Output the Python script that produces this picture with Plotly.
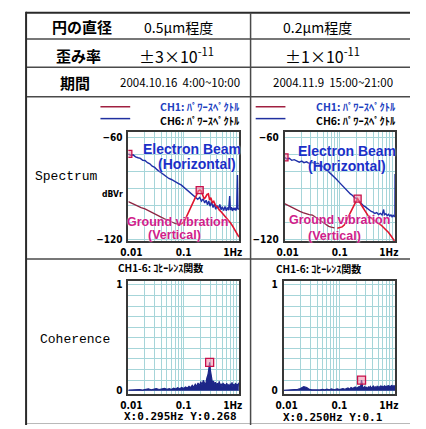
import plotly.graph_objects as go

W, H = 426, 429

# ---- table text -------------------------------------------------------------
ROW_LABELS = ["円の直径", "歪み率", "期間"]
COL1_TEXT = ["0.5μm程度", "±3×10<sup>-11</sup>", "2004.10.16\u00a0\u00a04:00~10:00"]
COL2_TEXT = ["0.2μm程度", "±1×10<sup>-11</sup>", "2004.11.9\u00a0\u00a015:00~21:00"]
SECTION_LABELS = ["Spectrum", "Coherence"]
LEGEND_CH1 = "CH1: ﾊﾟﾜｰｽﾍﾟｸﾄﾙ"
LEGEND_CH6 = "CH6: ﾊﾟﾜｰｽﾍﾟｸﾄﾙ"
COH_TITLE = "CH1-6: ｺﾋｰﾚﾝｽ関数"
BEAM_LABEL = ["Electron Beam", "(Horizontal)"]
GROUND_LABEL = ["Ground vibration", "(Vertical)"]
UNIT_LABEL = "dBVr"

# ---- axis ticks -------------------------------------------------------------
FREQ_TICKS = [0.01, 0.1, 1.0]
FREQ_TICK_TEXT = ["\u00a0\u00a00.01", "0.1", "1Hz\u00a0\u00a0\u00a0\u00a0"]
LOG_GRID = [0.02, 0.03, 0.04, 0.05, 0.06, 0.07, 0.08, 0.09,
            0.2, 0.3, 0.4, 0.5, 0.6, 0.7, 0.8, 0.9]
DB_TICKS = [-60, -120]
DB_GRID = [-70, -80, -90, -100, -110]
COH_TICKS = [0, 1]
COH_GRID = [0.1, 0.2, 0.3, 0.4, 0.5, 0.6, 0.7, 0.8, 0.9]

# ---- power spectra, 2004.10.16 ---------------------------------------------
CH6_L_FREQ = [0.0100, 0.0110, 0.0122, 0.0135, 0.0150, 0.0165, 0.0182, 0.0200, 0.0222, 0.0245,
              0.0270, 0.0300, 0.0330, 0.0365, 0.0400, 0.0445, 0.0490, 0.0540, 0.0600, 0.0660,
              0.0730, 0.0810, 0.0900, 0.1000, 0.1100, 0.1220, 0.1350, 0.1500, 0.1650, 0.1800,
              0.1950, 0.2100, 0.2250, 0.2400, 0.2550, 0.2700, 0.2850, 0.3000, 0.3200, 0.3400,
              0.3600, 0.3800, 0.4000, 0.4250, 0.4500, 0.4750, 0.5000, 0.5300, 0.5600, 0.5900,
              0.6200, 0.6500, 0.6800, 0.7000, 0.7300, 0.7600, 0.7900, 0.8200, 0.8500, 0.8800,
              0.9100, 0.9400, 0.9600, 0.9800, 1.0000]
CH6_L_DB = [-69.6, -70.5, -70.2, -71.4, -71.9, -72.3, -73.4, -73.5, -74.8, -75.5,
            -76.9, -77.6, -78.9, -80.0, -80.8, -82.3, -82.9, -84.1, -84.7, -85.6,
            -86.4, -87.1, -87.9, -89.2, -90.4, -91.6, -92.7, -94.2, -95.6, -96.3,
            -95.2, -97.4, -96.1, -98.5, -96.9, -99.6, -97.3, -100.4, -98.0, -101.2,
            -99.1, -102.3, -100.0, -101.9, -99.4, -102.5, -100.8, -102.9, -100.6, -103.1,
            -101.2, -102.8, -94.5, -102.6, -101.0, -103.2, -101.5, -102.7, -101.3, -103.0,
            -101.6, -82.0, -102.4, -101.8, -102.5]

CH1_L_FREQ = [0.0100, 0.0115, 0.0130, 0.0150, 0.0170, 0.0200, 0.0230, 0.0260, 0.0300, 0.0350,
              0.0400, 0.0450, 0.0500, 0.0560, 0.0630, 0.0700, 0.0780, 0.0860, 0.0950, 0.1050,
              0.1150, 0.1250, 0.1350, 0.1450, 0.1550, 0.1650, 0.1750, 0.1850, 0.1950, 0.2050,
              0.2150, 0.2250, 0.2350, 0.2500, 0.2650, 0.2800, 0.2950, 0.3100, 0.3300, 0.3500,
              0.3800, 0.4100, 0.4400, 0.4800, 0.5200, 0.5600, 0.6000, 0.6500, 0.7000, 0.7500,
              0.8000, 0.8600, 0.9200, 1.0000]
CH1_L_DB = [-97.7, -98.6, -99.8, -100.4, -101.3, -102.0, -103.1, -104.0, -105.2, -106.1,
            -107.0, -107.9, -108.4, -109.3, -110.0, -110.6, -110.9, -111.2, -110.4, -108.7,
            -105.9, -103.2, -100.6, -98.1, -96.0, -94.1, -92.6, -91.4, -90.9, -91.2,
            -92.8, -95.5, -96.2, -95.0, -93.5, -93.2, -96.8, -95.4, -98.3, -97.6,
            -100.2, -100.9, -102.6, -103.8, -105.1, -106.0, -107.4, -108.5, -110.2, -111.6,
            -113.0, -114.7, -116.5, -118.6]

# ---- power spectra, 2004.11.9 ----------------------------------------------
CH6_R_FREQ = [0.0100, 0.0110, 0.0122, 0.0135, 0.0150, 0.0168, 0.0185, 0.0205, 0.0225, 0.0250,
              0.0280, 0.0320, 0.0360, 0.0400, 0.0450, 0.0500, 0.0560, 0.0630, 0.0700, 0.0780,
              0.0870, 0.0960, 0.1050, 0.1150, 0.1270, 0.1400, 0.1550, 0.1700, 0.1850, 0.2000,
              0.2150, 0.2300, 0.2500, 0.2700, 0.2900, 0.3150, 0.3400, 0.3700, 0.4000, 0.4300,
              0.4650, 0.5000, 0.5400, 0.5800, 0.6200, 0.6400, 0.6800, 0.7200, 0.7600, 0.8000,
              0.8400, 0.8800, 0.9200, 0.9600, 0.9900, 0.9970, 1.0000]
CH6_R_DB = [-71.7, -72.6, -72.2, -73.4, -73.0, -73.7, -74.5, -73.9, -74.8, -74.3,
            -75.2, -74.6, -75.5, -75.1, -76.0, -77.3, -78.6, -80.1, -81.4, -83.0,
            -84.6, -86.1, -87.5, -88.9, -90.4, -91.9, -93.2, -94.1, -95.4, -95.8,
            -96.9, -98.2, -99.0, -100.3, -100.8, -101.9, -102.4, -103.5, -103.9, -104.7,
            -104.2, -105.3, -104.6, -105.6, -102.4, -105.4, -104.8, -106.0, -105.2, -106.3,
            -105.5, -106.6, -105.8, -106.5, -106.2, -81.4, -106.0]

CH1_R_FREQ = [0.0100, 0.0115, 0.0130, 0.0150, 0.0168, 0.0190, 0.0215, 0.0245, 0.0280, 0.0320,
              0.0360, 0.0400, 0.0450, 0.0500, 0.0560, 0.0630, 0.0700, 0.0800, 0.0900, 0.1000,
              0.1100, 0.1200, 0.1320, 0.1450, 0.1600, 0.1750, 0.1900, 0.2050, 0.2100, 0.2200,
              0.2350, 0.2550, 0.2800, 0.3050, 0.3330, 0.3650, 0.4000, 0.4400, 0.4900, 0.5570,
              0.6200, 0.6900, 0.7600, 0.8400, 0.9350, 0.9700]
CH1_R_DB = [-98.9, -100.0, -100.9, -102.0, -102.8, -103.5, -104.2, -104.9, -105.4, -105.7,
            -106.6, -107.8, -109.0, -110.2, -111.4, -112.3, -112.8, -113.2, -113.4, -113.0,
            -112.6, -111.5, -109.0, -106.2, -103.4, -100.8, -98.5, -96.3, -96.0, -97.1,
            -99.0, -100.6, -102.7, -104.3, -106.6, -107.3, -108.4, -109.2, -110.4, -111.5,
            -112.9, -114.4, -115.9, -117.8, -120.2, -120.8]

# frequency where the ground-vibration trace starts climbing
RISE_START_HZ = 0.086

# ---- coherence CH1-6 --------------------------------------------------------
COH_FREQ = [0.010, 0.012, 0.014, 0.016, 0.018, 0.020, 0.023, 0.026, 0.029, 0.032,
            0.036, 0.040, 0.045, 0.050, 0.055, 0.060, 0.066, 0.072, 0.078, 0.085,
            0.092, 0.100, 0.108, 0.116, 0.125, 0.134, 0.143, 0.152, 0.162, 0.172,
            0.182, 0.193, 0.204, 0.215, 0.227, 0.239, 0.250, 0.263, 0.275, 0.285,
            0.295, 0.305, 0.318, 0.332, 0.346, 0.360, 0.375, 0.390, 0.406, 0.422,
            0.440, 0.458, 0.476, 0.495, 0.515, 0.535, 0.556, 0.578, 0.600, 0.623,
            0.647, 0.671, 0.696, 0.722, 0.749, 0.777, 0.805, 0.834, 0.864, 0.895,
            0.927, 0.960, 0.995]
COH_L = [0.005, 0.008, 0.004, 0.010, 0.006, 0.012, 0.018, 0.009, 0.014, 0.020,
         0.011, 0.016, 0.022, 0.013, 0.019, 0.010, 0.024, 0.015, 0.028, 0.018,
         0.030, 0.021, 0.035, 0.024, 0.042, 0.028, 0.050, 0.033, 0.061, 0.040,
         0.072, 0.048, 0.085, 0.055, 0.098, 0.070, 0.060, 0.120, 0.150, 0.205,
         0.268, 0.190, 0.110, 0.075, 0.092, 0.058, 0.081, 0.047, 0.070, 0.052,
         0.088, 0.045, 0.066, 0.038, 0.074, 0.050, 0.062, 0.035, 0.071, 0.048,
         0.058, 0.030, 0.066, 0.044, 0.079, 0.040, 0.060, 0.037, 0.072, 0.046,
         0.063, 0.041, 0.075]
COH_R = [0.004, 0.006, 0.005, 0.008, 0.012, 0.020, 0.038, 0.030, 0.012, 0.008,
         0.006, 0.010, 0.007, 0.012, 0.008, 0.014, 0.009, 0.016, 0.010, 0.013,
         0.018, 0.011, 0.015, 0.020, 0.012, 0.018, 0.025, 0.014, 0.030, 0.020,
         0.026, 0.035, 0.022, 0.030, 0.040, 0.028, 0.100, 0.034, 0.024, 0.038,
         0.027, 0.032, 0.022, 0.036, 0.028, 0.040, 0.025, 0.033, 0.044, 0.030,
         0.036, 0.026, 0.042, 0.031, 0.038, 0.029, 0.045, 0.033, 0.040, 0.030,
         0.048, 0.035, 0.041, 0.032, 0.050, 0.037, 0.044, 0.034, 0.052, 0.040,
         0.046, 0.036, 0.050]
CURSOR_L = (0.295, 0.268)
CURSOR_R = (0.250, 0.1)

# ---- styling ---------------------------------------------------------------
BEAM_BLUE = "#1f2fa8"
GROUND_DARK = "#8e2442"
GROUND_RED = "#e0142e"
COH_NAVY = "#1c2688"
GRID = "#a6d5d9"
FRAME = "#383838"
TABLE_LINE = "#4a4a4a"
CURSOR_EDGE = "#c8104a"
CURSOR_FILL = "rgba(240,140,170,0.55)"

JP = "Noto Sans CJK JP"
TICK_FONT = dict(family="DejaVu Sans Condensed", size=10, color="black", weight="bold")

fig = go.Figure()


def dom_x(a, b):
    return [a / W, b / W]


def dom_y(top, bottom):
    return [1 - bottom / H, 1 - top / H]


# (axis number, left, right, top, bottom, y-range, labelled y ticks, y grid)
PANELS = [
    (2, 123, 242, 133, 243, [-121, -57], DB_TICKS, DB_GRID),
    (3, 291, 410, 133, 243, [-121, -57], DB_TICKS, DB_GRID),
    (4, 123, 242, 283, 398, [-0.035, 1.04], COH_TICKS, COH_GRID),
    (5, 290, 410, 283, 398, [-0.035, 1.04], COH_TICKS, COH_GRID),
]

layout_axes = {}
for n, x0, x1, y0, y1, yr, yticks, ygrid in PANELS:
    layout_axes[f"xaxis{n}"] = dict(
        domain=dom_x(x0, x1), anchor=f"y{n}", type="log", range=[-2, 0],
        tickmode="array", tickvals=FREQ_TICKS, ticktext=FREQ_TICK_TEXT, ticks="",
        showgrid=True, gridcolor=GRID, gridwidth=1,
        minor=dict(tickmode="array", tickvals=LOG_GRID, showgrid=True,
                   gridcolor=GRID, gridwidth=1, ticks=""),
        showline=True, mirror=True, linecolor=FRAME, linewidth=1.5,
        zeroline=False, tickfont=TICK_FONT, ticklabelstandoff=1,
    )
    layout_axes[f"yaxis{n}"] = dict(
        domain=dom_y(y0, y1), anchor=f"x{n}", range=yr,
        tickmode="array", tickvals=yticks, ticks="",
        showgrid=True, gridcolor=GRID, gridwidth=1,
        minor=dict(tickmode="array", tickvals=ygrid, showgrid=True,
                   gridcolor=GRID, gridwidth=1, ticks=""),
        showline=True, mirror=True, linecolor=FRAME, linewidth=1.5,
        zeroline=False, tickfont=TICK_FONT, ticklabelstandoff=2,
    )


def split_at(freq, vals, f_split):
    lo = [(f, v) for f, v in zip(freq, vals) if f <= f_split]
    hi = [(f, v) for f, v in zip(freq, vals) if f >= f_split]
    return lo, hi


def add_spectrum(n, beam_f, beam_db, gnd_f, gnd_db, gnd_mark_idx):
    lo, hi = split_at(gnd_f, gnd_db, RISE_START_HZ)
    fig.add_trace(go.Scatter(x=[p[0] for p in lo], y=[p[1] for p in lo], mode="lines",
                             line=dict(color=GROUND_DARK, width=1.3),
                             xaxis=f"x{n}", yaxis=f"y{n}", showlegend=False))
    fig.add_trace(go.Scatter(x=beam_f, y=beam_db, mode="lines",
                             line=dict(color=BEAM_BLUE, width=1.4),
                             xaxis=f"x{n}", yaxis=f"y{n}", showlegend=False))
    fig.add_trace(go.Scatter(x=[p[0] for p in hi], y=[p[1] for p in hi], mode="lines",
                             line=dict(color=GROUND_RED, width=1.6),
                             xaxis=f"x{n}", yaxis=f"y{n}", showlegend=False))
    fig.add_trace(go.Scatter(
        x=[beam_f[0], gnd_f[gnd_mark_idx]], y=[beam_db[0], gnd_db[gnd_mark_idx]],
        mode="markers",
        marker=dict(symbol="square", size=7, color=CURSOR_FILL,
                    line=dict(color=CURSOR_EDGE, width=1.3)),
        xaxis=f"x{n}", yaxis=f"y{n}", showlegend=False))


def add_coherence(n, vals, cursor):
    fig.add_trace(go.Scatter(x=COH_FREQ, y=vals, mode="lines", fill="tozeroy",
                             fillcolor=COH_NAVY, line=dict(color=COH_NAVY, width=1.2),
                             xaxis=f"x{n}", yaxis=f"y{n}", showlegend=False))
    fig.add_trace(go.Scatter(x=[cursor[0]], y=[cursor[1]], mode="markers",
                             marker=dict(symbol="square", size=8, color=CURSOR_FILL,
                                         line=dict(color=CURSOR_EDGE, width=1.3)),
                             xaxis=f"x{n}", yaxis=f"y{n}", showlegend=False))


peak_l = CH1_L_DB.index(max(CH1_L_DB[CH1_L_FREQ.index(RISE_START_HZ):]))
add_spectrum(2, CH6_L_FREQ, CH6_L_DB, CH1_L_FREQ, CH1_L_DB, peak_l)
add_spectrum(3, CH6_R_FREQ, CH6_R_DB, CH1_R_FREQ, CH1_R_DB, CH1_R_FREQ.index(0.21))
add_coherence(4, COH_L, CURSOR_L)
add_coherence(5, COH_R, CURSOR_R)

# ---- table grid (pixel coordinates on a hidden full-page axis) -------------
shapes = []


def hline(y, x0=13, x1=W, color=TABLE_LINE, width=1.5):
    shapes.append(dict(type="line", xref="x", yref="y", x0=x0, x1=x1, y0=y, y1=y,
                       line=dict(color=color, width=width)))


def vline(x, y0, y1, color=TABLE_LINE, width=1.5):
    shapes.append(dict(type="line", xref="x", yref="y", x0=x, x1=x, y0=y0, y1=y1,
                       line=dict(color=color, width=width)))


hline(12, color="#2a2a2a", width=2)
for yy in (38.5, 67, 97, 261):
    hline(yy)
hline(427.5, color="#b8b8b8", width=1)
vline(13, 11, H, color="#2a2a2a", width=2)
vline(254.5, 12, H)

# spectrum legend swatches
for lx0, lx1 in ((93, 125), (260, 292)):
    shapes.append(dict(type="line", xref="x", yref="y", x0=lx0, x1=lx1, y0=107, y1=107,
                       line=dict(color="#a02040", width=1.5)))
    shapes.append(dict(type="line", xref="x", yref="y", x0=lx0, x1=lx1, y0=119, y1=119,
                       line=dict(color="#2030a0", width=1.5)))

annotations = []


def text(x, y, s, size, color="black", family=JP, weight="normal", shadow=None, xanchor="center"):
    font = dict(family=family, size=size, color=color, weight=weight)
    if shadow:
        font["shadow"] = shadow
    annotations.append(dict(x=x, y=y, xref="x", yref="y", text=s, showarrow=False,
                            xanchor=xanchor, yanchor="middle", font=font))


row_y = [26, 55, 82]
label_x = [73, 69, 66]
col1_x = [177, 175, 179]
col2_x = [327, 332, 343]
col_sizes = [14, 16, 11.5]
for i in range(3):
    text(label_x[i], row_y[i], ROW_LABELS[i], 15, weight="bold")
    text(col1_x[i], row_y[i], COL1_TEXT[i], col_sizes[i])
    text(col2_x[i], row_y[i], COL2_TEXT[i], col_sizes[i])

text(57, 178, SECTION_LABELS[0], 13, family="Liberation Mono")
text(66, 342, SECTION_LABELS[1], 13, family="Liberation Mono")
text(106, 195, UNIT_LABEL, 8.5, family="DejaVu Sans Condensed", weight="bold")

# two-line channel legend: CH1 in blue, CH6 in black
legend_block = f"<span style='color:#2040c0'>{LEGEND_CH1}</span><br>{LEGEND_CH6}"
for cx in (200, 368):
    text(cx, 113.5, legend_block, 10.5, weight="bold")

halo = "0px 0px 2px white"
for (bx, by, hx, hy, gx, gy, vx, vy) in ((192, 150, 197, 165, 176, 224, 173, 237),
                                         (358, 152, 358, 167, 350, 222, 345, 238)):
    text(bx, by, BEAM_LABEL[0], 14, color="#1a30c8", family="Liberation Sans", weight="bold", shadow=halo)
    text(hx, hy, BEAM_LABEL[1], 14, color="#1a30c8", family="Liberation Sans", weight="bold", shadow=halo)
    text(gx, gy, GROUND_LABEL[0], 12.5, color="#d0208a", family="Liberation Sans", weight="bold", shadow=halo)
    text(vx, vy, GROUND_LABEL[1], 12.5, color="#d0208a", family="Liberation Sans", weight="bold", shadow=halo)

text(158, 270, COH_TITLE, 10, weight="bold")
text(328, 271, COH_TITLE, 10, weight="bold")

text(179, 420.5, f"X:{CURSOR_L[0]:.3f}Hz Y:{CURSOR_L[1]:.3f}", 11,
     family="DejaVu Sans Mono", weight="bold")
text(343, 421, f"X:{CURSOR_R[0]:.3f}Hz Y:{CURSOR_R[1]:g}", 11,
     family="DejaVu Sans Mono", weight="bold")

fig.update_layout(
    width=W, height=H, autosize=False,
    margin=dict(l=0, r=0, t=0, b=0, pad=0),
    paper_bgcolor="white", plot_bgcolor="white",
    showlegend=False,
    xaxis=dict(domain=[0, 1], range=[0, W], visible=False, fixedrange=True),
    yaxis=dict(domain=[0, 1], range=[H, 0], visible=False, fixedrange=True),
    shapes=shapes, annotations=annotations,
    **layout_axes,
)

fig.write_html("out.html", config={"displayModeBar": False})
